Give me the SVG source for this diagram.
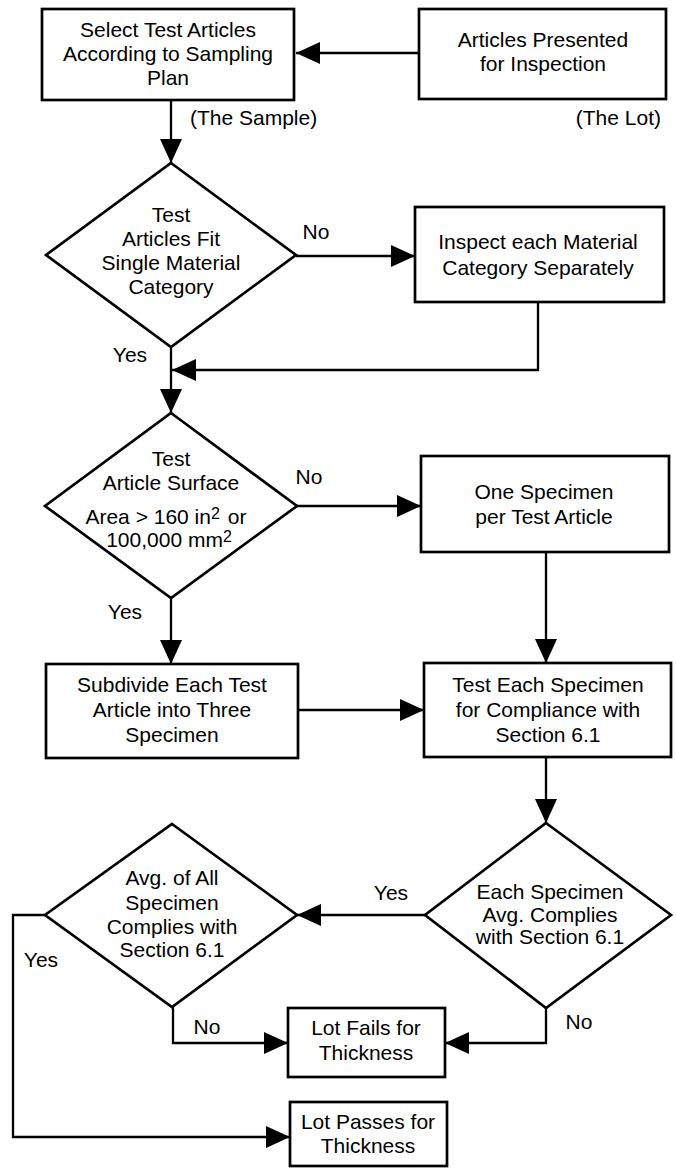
<svg xmlns="http://www.w3.org/2000/svg" width="676" height="1168" viewBox="0 0 676 1168">
<style>
.box{fill:#fff;stroke:#000;stroke-width:2.7}
.t{font-family:"Liberation Sans",Arial,sans-serif;font-size:21px;fill:#000;text-anchor:middle}
.l{font-family:"Liberation Sans",Arial,sans-serif;font-size:21px;fill:#000}
.c{fill:none;stroke:#000;stroke-width:2.3}
</style>
<defs>
<marker id="ah" markerUnits="userSpaceOnUse" markerWidth="24" markerHeight="22" refX="24" refY="11" orient="auto">
<path d="M0,0 L24,11 L0,22 z" fill="#000"/>
</marker>
</defs>
<rect width="676" height="1168" fill="#fff"/>
<g id="connectors">
<line class="c" x1="419" y1="53" x2="296" y2="53" marker-end="url(#ah)"/>
<line class="c" x1="171" y1="100" x2="171" y2="163" marker-end="url(#ah)"/>
<line class="c" x1="296" y1="256" x2="415" y2="256" marker-end="url(#ah)"/>
<polyline class="c" points="538,302 538,370 172,370" marker-end="url(#ah)"/>
<line class="c" x1="171" y1="347" x2="171" y2="413" marker-end="url(#ah)"/>
<line class="c" x1="297" y1="506" x2="421" y2="506" marker-end="url(#ah)"/>
<line class="c" x1="171" y1="598" x2="171" y2="664" marker-end="url(#ah)"/>
<line class="c" x1="546" y1="552" x2="546" y2="663" marker-end="url(#ah)"/>
<line class="c" x1="298" y1="710" x2="424" y2="710" marker-end="url(#ah)"/>
<line class="c" x1="546" y1="757" x2="546" y2="823" marker-end="url(#ah)"/>
<line class="c" x1="425" y1="915" x2="297" y2="915" marker-end="url(#ah)"/>
<polyline class="c" points="45,915 13,915 13,1137 290,1137" marker-end="url(#ah)"/>
<polyline class="c" points="173,1007 173,1043 288,1043" marker-end="url(#ah)"/>
<polyline class="c" points="546,1008 546,1043 445,1043" marker-end="url(#ah)"/>
<text class="l" x="190" y="125">(The Sample)</text>
<text class="l" x="661" y="125" text-anchor="end">(The Lot)</text>
<text class="t" x="316" y="239">No</text>
<text class="t" x="130" y="362">Yes</text>
<text class="t" x="309" y="484">No</text>
<text class="t" x="125" y="619">Yes</text>
<text class="t" x="391" y="900">Yes</text>
<text class="t" x="41" y="967">Yes</text>
<text class="t" x="207" y="1034">No</text>
<text class="t" x="579" y="1029">No</text>
</g>
<g id="select">
<rect class="box" x="42" y="9" width="252" height="91"/>
<text class="t" x="168" y="37">Select Test Articles</text>
<text class="t" x="168" y="61">According to Sampling</text>
<text class="t" x="168" y="85">Plan</text>
</g>
<g id="presented">
<rect class="box" x="419" y="9" width="247" height="90"/>
<text class="t" x="543" y="47">Articles Presented</text>
<text class="t" x="543" y="71">for Inspection</text>
</g>
<g id="fit">
<polygon class="box" points="171,163 296,255 171,347 46,255"/>
<text class="t" x="171" y="222">Test</text>
<text class="t" x="171" y="246">Articles Fit</text>
<text class="t" x="171" y="270">Single Material</text>
<text class="t" x="171" y="294">Category</text>
</g>
<g id="inspect">
<rect class="box" x="415" y="207" width="249" height="95"/>
<text class="t" x="538" y="249">Inspect each Material</text>
<text class="t" x="538" y="275">Category Separately</text>
</g>
<g id="surface">
<polygon class="box" points="171,413 297,506 171,598 45,506"/>
<text class="t" x="171" y="466">Test</text>
<text class="t" x="171" y="490">Article Surface</text>
<text class="t" x="166" y="524">Area &gt; 160 in<tspan font-size="16" dy="-5">2</tspan><tspan dy="5" dx="8">or</tspan></text>
<text class="t" x="169" y="547">100,000 mm<tspan font-size="16" dy="-5">2</tspan></text>
</g>
<g id="one">
<rect class="box" x="421" y="456" width="248" height="96"/>
<text class="t" x="544" y="499">One Specimen</text>
<text class="t" x="544" y="524">per Test Article</text>
</g>
<g id="subdivide">
<rect class="box" x="46" y="664" width="252" height="94"/>
<text class="t" x="172" y="692">Subdivide Each Test</text>
<text class="t" x="172" y="717">Article into Three</text>
<text class="t" x="172" y="742">Specimen</text>
</g>
<g id="testeach">
<rect class="box" x="424" y="663" width="247" height="94"/>
<text class="t" x="548" y="692">Test Each Specimen</text>
<text class="t" x="548" y="717">for Compliance with</text>
<text class="t" x="548" y="742">Section 6.1</text>
</g>
<g id="eachavg">
<polygon class="box" points="546,823 671,915 546,1008 425,915"/>
<text class="t" x="550" y="899">Each Specimen</text>
<text class="t" x="550" y="922">Avg. Complies</text>
<text class="t" x="550" y="944">with Section 6.1</text>
</g>
<g id="avgall">
<polygon class="box" points="172,824 297,915 172,1007 45,915"/>
<text class="t" x="172" y="885">Avg. of All</text>
<text class="t" x="172" y="910">Specimen</text>
<text class="t" x="172" y="934">Complies with</text>
<text class="t" x="172" y="957">Section 6.1</text>
</g>
<g id="fails">
<rect class="box" x="288" y="1008" width="157" height="69"/>
<text class="t" x="366" y="1035">Lot Fails for</text>
<text class="t" x="366" y="1060">Thickness</text>
</g>
<g id="passes">
<rect class="box" x="290" y="1102" width="157" height="64"/>
<text class="t" x="368" y="1129">Lot Passes for</text>
<text class="t" x="368" y="1153">Thickness</text>
</g>
</svg>
